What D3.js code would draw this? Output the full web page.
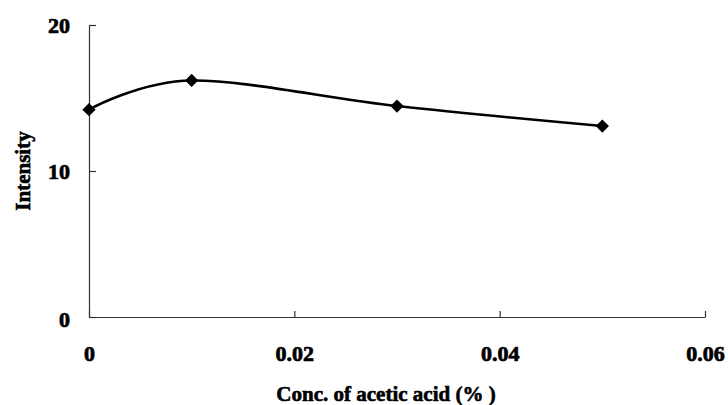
<!DOCTYPE html>
<html>
<head>
<meta charset="utf-8">
<script src="https://cdn.jsdelivr.net/npm/d3@7"></script>
<style>
  body { margin: 0; background: #fff; }
  svg { display: block; }
</style>
</head>
<body>
<svg id="chart" width="728" height="405"></svg>
<script>
// acetic acid concentration (%) vs intensity
const concentrations = [0, 0.01, 0.03, 0.05];
const intensities = [14.2, 16.2, 14.45, 13.08];
const xTicks = [0, 0.02, 0.04, 0.06];
const yTicks = [0, 10, 20];

const width = 728;
const height = 405;
const margin = { top: 25, right: 23, bottom: 88, left: 89 };

const svg = d3.select('#chart');
const font = 'Liberation Serif, Times New Roman, serif';

const x = d3.scaleLinear()
  .domain([0, 0.06])
  .range([margin.left, width - margin.right]);

const y = d3.scaleLinear()
  .domain([0, 20])
  .range([height - margin.bottom, margin.top]);

// axes, ticks point inward
const xAxis = svg.append('g')
  .attr('transform', `translate(0,${y(0)})`)
  .call(d3.axisBottom(x).tickValues(xTicks).tickSize(-6).tickPadding(28)
    .tickFormat(d => d === 0 ? '0' : d3.format('.2f')(d)).tickSizeOuter(0));

const yAxis = svg.append('g')
  .attr('transform', `translate(${x(0)},0)`)
  .call(d3.axisLeft(y).tickValues(yTicks).tickSize(-7).tickPadding(19).tickSizeOuter(0));

[xAxis, yAxis].forEach(g => {
  g.attr('font-family', font).attr('font-size', 22);
  g.select('.domain').attr('stroke', '#333').attr('stroke-width', 1.2);
  g.selectAll('.tick line').attr('stroke', '#333').attr('stroke-width', 1.2);
  g.selectAll('.tick text')
    .attr('font-weight', 'bold')
    .attr('fill', '#000')
    .attr('stroke', '#000')
    .attr('stroke-width', 0.7);
});
// zero on y axis sits a bit lower than its tick
yAxis.selectAll('.tick text').filter(d => d === 0).attr('dy', '0.45em');

// smoothed line
const line = d3.line()
  .x((d, i) => x(concentrations[i]))
  .y(d => y(d))
  .curve(d3.curveCardinal.tension(0));

svg.append('path')
  .datum(intensities)
  .attr('fill', 'none')
  .attr('stroke', '#000')
  .attr('stroke-width', 2.6)
  .attr('d', line);

// diamond markers
const diamond = d3.symbol().type(d3.symbolSquare).size(88);
svg.append('g')
  .selectAll('path')
  .data(intensities)
  .join('path')
  .attr('d', diamond)
  .attr('fill', '#000')
  .attr('transform', (d, i) => `translate(${x(concentrations[i])},${y(d)}) rotate(45)`);

// axis titles
svg.append('text')
  .attr('x', 386)
  .attr('y', 401)
  .attr('text-anchor', 'middle')
  .attr('font-family', font)
  .attr('font-weight', 'bold')
  .attr('font-size', 21)
  .attr('stroke', '#000')
  .attr('stroke-width', 0.6)
  .text('Conc. of acetic acid (% )');

svg.append('text')
  .attr('transform', `translate(30,171) rotate(-90)`)
  .attr('text-anchor', 'middle')
  .attr('font-family', font)
  .attr('font-weight', 'bold')
  .attr('font-size', 21)
  .attr('stroke', '#000')
  .attr('stroke-width', 0.6)
  .text('Intensity');
</script>
</body>
</html>
